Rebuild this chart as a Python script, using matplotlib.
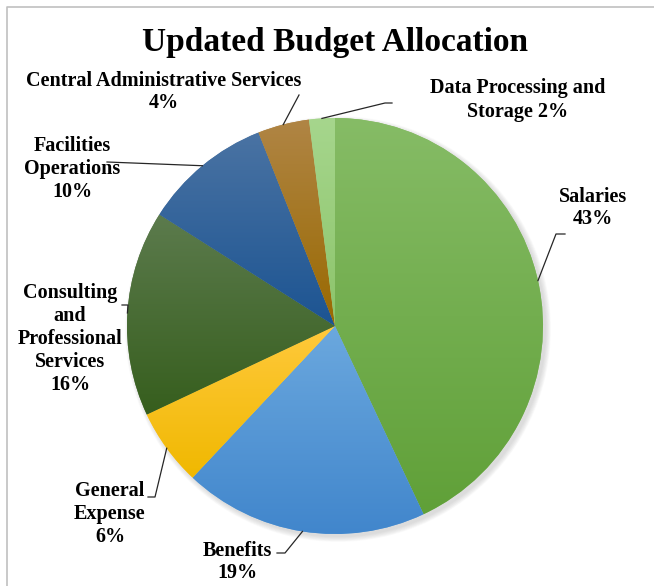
import numpy as np
import matplotlib.pyplot as plt
from matplotlib.colors import to_rgb
from matplotlib.patches import Circle

# data (clockwise from the top)
labels = ['Salaries', 'Benefits', 'General\nExpense',
          'Consulting\nand\nProfessional\nServices', 'Facilities\nOperations',
          'Central Administrative Services', 'Data Processing and\nStorage']
values = [43, 19, 6, 16, 10, 4, 2]

# gradient colours (top, bottom) per slice
tops = ['#86bc66', '#6ba8de', '#ffc93c', '#5c7b4d', '#4a73a3', '#b08545', '#a6d68d']
bottoms = ['#60a038', '#4186cc', '#f0b800', '#365e1d', '#1c5492', '#996900', '#8cc46a']

W, H = 654, 586


def px(x, y):
    # pixel position in the picture -> data coords
    return x, H - y


fig = plt.figure(figsize=(W / 100, H / 100), dpi=100)
ax = fig.add_axes([0, 0, 1, 1])
ax.set_xlim(0, W)
ax.set_ylim(0, H)
ax.axis('off')

cx, cy = px(335, 326)
R = 208

# soft shadow
for i in range(8):
    ax.add_patch(Circle((cx + 3, cy - 3), R + i * 0.7, color='gray',
                        alpha=0.035, lw=0, zorder=0))

wedges, _ = ax.pie(values, colors=tops, startangle=90, counterclock=False,
                   center=(cx, cy), radius=R, wedgeprops=dict(linewidth=0))

for w, c1, c2 in zip(wedges, tops, bottoms):
    w.set_zorder(1)
    bb = w.get_path().get_extents()
    t = np.linspace(0, 1, 256)[:, None, None]
    grad = np.array(to_rgb(c2))[None, None, :] * (1 - t) + np.array(to_rgb(c1))[None, None, :] * t
    im = ax.imshow(grad, extent=(bb.x0, bb.x1, bb.y0, bb.y1), origin='lower',
                   aspect='auto', interpolation='bilinear', zorder=2)
    im.set_clip_path(w)

ax.set_xlim(0, W)
ax.set_ylim(0, H)

# label text positions (pixel centres) and leader elbows
pcts = [f'{v}%' for v in values]
texts = [labels[0] + '\n' + pcts[0], labels[1] + '\n' + pcts[1], labels[2] + '\n' + pcts[2],
         labels[3] + '\n' + pcts[3], labels[4] + '\n' + pcts[4],
         labels[5] + '\n' + pcts[5], labels[6] + ' ' + pcts[6]]
text_pos = [(593, 208), (237, 562), (110, 514), (70, 339), (72, 169), (164, 92), (518, 100)]
elbows = [
    [(556, 234), (565, 234)],
    [(285, 553), (277, 553)],
    [(155, 497), (148, 497)],
    [(128, 305), (122, 305)],
    [(107, 162)],
    [(299, 95)],
    [(385, 103), (392, 103)],
]

start = 90.0
total = sum(values)
for v, txt, tp, el in zip(values, texts, text_pos, elbows):
    mid = np.deg2rad(start - v / total * 360 / 2)
    start -= v / total * 360
    ex, ey = cx + R * np.cos(mid), cy + R * np.sin(mid)
    pts = [(ex, ey)] + [px(*p) for p in el]
    xs, ys = zip(*pts)
    ax.plot(xs, ys, color='#262626', lw=0.9, zorder=3)
    ax.text(*px(*tp), txt, ha='center', va='center', fontsize=14.5,
            fontweight='bold', family='Liberation Serif', linespacing=1.2,
            zorder=4)

ax.text(*px(335, 43), 'Updated Budget Allocation', ha='center', va='center',
        fontsize=24, fontweight='bold', family='Liberation Serif')

# chart frame (only top and left edges visible)
ax.plot([7, 7, W], [0, H - 7, H - 7], color='#c0c0c0', lw=1.2, zorder=5)

fig.savefig('out.png', dpi=100)
